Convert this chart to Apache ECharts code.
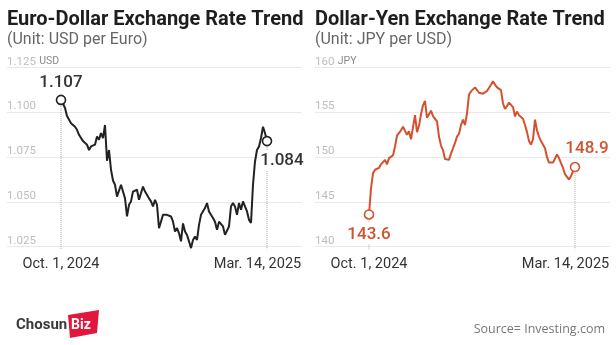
<!DOCTYPE html>
<html>
<head>
<meta charset="utf-8">
<script src="https://cdn.jsdelivr.net/npm/echarts@6/dist/echarts.min.js"></script>
<style>
html,body{margin:0;padding:0;background:#fff;}
#chart{width:616px;height:345px;}
</style>
</head>
<body>
<div id="chart"></div>
<script>
// ---- data ----
const dateLabels = ['Oct. 1, 2024', 'Mar. 14, 2025'];
const eurUsd = [
1.107,1.105,1.1025,1.098,1.097,1.094,1.0935,1.092,1.0903,1.0875,
1.0866,1.084,1.083,1.082,1.079,1.081,1.080,1.082,1.0866,1.0847,
1.0885,1.0857,1.093,1.073,1.079,1.068,1.062,1.0596,1.053,1.054,
1.0596,1.0596,1.052,1.0419,1.0484,1.0503,1.0558,1.0549,1.0568,1.0512,
1.0512,1.0586,1.0558,1.054,1.052,1.0503,1.0475,1.0512,1.0484,1.0354,
1.039,1.0428,1.0419,1.0428,1.0428,1.0419,1.039,1.0335,1.0354,1.0326,
1.028,1.038,1.0335,1.0316,1.028,1.0242,1.0288,1.0307,1.0288,1.0372,
1.0428,1.0419,1.0466,1.0494,1.0447,1.0428,1.041,1.039,1.0344,1.039,
1.040,1.0363,1.0316,1.0307,1.0363,1.0475,1.0494,1.0475,1.0428,1.0494,
1.0456,1.0503,1.0512,1.0447,1.040,1.0382,1.0596,1.0726,1.079,1.081,
1.0857,1.092,1.0885,1.084
];
const usdJpy = [
143.6,146.5,148.2,148.6,148.4,148.8,149.2,149.0,149.7,149.2,
149.9,149.9,150.2,151.2,152.4,152.2,153.0,153.4,153.3,152.5,
152.9,152.0,152.2,154.7,152.8,153.5,154.8,155.8,156.3,154.4,
154.6,155.2,154.6,154.7,154.0,152.3,151.3,150.8,149.8,149.6,
149.7,150.4,150.6,151.6,152.3,152.6,153.6,154.2,153.6,154.9,
157.0,157.35,157.2,157.8,157.8,157.2,157.0,157.1,157.1,157.4,
157.5,158.1,158.5,158.1,157.8,157.9,157.5,156.0,155.4,155.7,
156.1,156.2,155.6,154.55,155.1,154.7,154.9,154.3,153.6,152.8,
151.8,151.4,152.0,154.2,153.0,152.3,151.8,151.9,151.0,150.0,
149.4,149.2,149.4,149.5,150.3,149.9,149.35,148.8,148.1,147.9,
147.5,147.9,148.4,148.9
];
const eurTicks = ['1.025','1.050','1.075','1.100','1.125'];
const jpyTicks = ['140','145','150','155','160'];
const units = ['USD', 'JPY'];
const titles = ['Euro-Dollar Exchange Rate Trend', 'Dollar-Yen Exchange Rate Trend'];
const subtitles = ['(Unit: USD per Euro)', '(Unit: JPY per USD)'];
const source = 'Source= Investing.com';

// ---- styling ----
const FONT = 'Roboto';
const BLACK = '#222222';
const ORANGE = '#d4512d';

function yAxisFor(ticks, unit, gridIndex) {
  const nums = ticks.map(Number);
  const min = nums[0], max = nums[nums.length - 1];
  const interval = Number(((max - min) / (nums.length - 1)).toFixed(4));
  return {
    type: 'value', gridIndex: gridIndex, min: min, max: max, interval: interval,
    axisLine: {show: false}, axisTick: {show: false},
    splitLine: {lineStyle: {color: '#e9e9e9', width: 1}},
    axisLabel: {
      inside: true, margin: 0, verticalAlign: 'bottom', align: 'left',
      formatter: function (v) {
        let idx = nums.findIndex(n => Math.abs(n - v) < 1e-6);
        let t = idx >= 0 ? ticks[idx] : String(v);
        return idx === nums.length - 1 ? '{v|' + t + '} {u|' + unit + '}' : '{v|' + t + '}';
      },
      rich: {
        v: {fontFamily: FONT, fontSize: 11.5, color: '#bdbdbd'},
        u: {fontFamily: FONT, fontSize: 10.5, color: '#8a8a8a'}
      }
    }
  };
}

function xAxisFor(gridIndex, n) {
  return {
    type: 'value', gridIndex: gridIndex, min: -27, max: (n - 1) + 17.5,
    axisLine: {show: false}, axisTick: {show: false}, splitLine: {show: false},
    axisLabel: {
      customValues: [0, n - 1], margin: 10,
      formatter: function (v) {
        return v === 0 ? '{a|' + dateLabels[0] + '}' : '{b|' + dateLabels[1] + '}';
      },
      rich: {
        a: {fontFamily: FONT, fontSize: 14.5, color: '#333'},
        b: {fontFamily: FONT, fontSize: 14.5, color: '#333', padding: [0, 19, 0, 0]}
      }
    }
  };
}

function guideSeries(values, idx, bottom, gridIndex) {
  return {
    type: 'line', xAxisIndex: gridIndex, yAxisIndex: gridIndex, z: 1,
    data: [[idx, values[idx]], [idx, bottom]],
    symbol: 'none', clip: false, silent: true,
    lineStyle: {type: 'dotted', color: '#a9a9a9', width: 1}
  };
}

function seriesFor(values, color, gridIndex, digits, startLabelPos, endLabelPos) {
  const n = values.length;
  const labelBase = {show: true, fontFamily: FONT, fontSize: 17, fontWeight: 500, color: color === BLACK ? '#333' : color};
  return {
    type: 'line', xAxisIndex: gridIndex, yAxisIndex: gridIndex, z: 3,
    data: values.map((v, i) => [i, v]),
    symbol: 'none', clip: false, silent: true,
    lineStyle: {color: color, width: 2},
    markPoint: {
      silent: true, z: 10, animation: false,
      symbol: 'circle', symbolSize: 9,
      itemStyle: {color: '#fff', borderColor: color, borderWidth: 1.6},
      data: [
        {coord: [0, values[0]], label: Object.assign({}, labelBase, startLabelPos, {formatter: values[0].toFixed(digits)})},
        {coord: [n - 1, values[n - 1]], label: Object.assign({}, labelBase, endLabelPos, {formatter: values[n - 1].toFixed(digits)})}
      ]
    }
  };
}

const eurBottom = Number(eurTicks[0]) - 0.0014;
const jpyBottom = Number(jpyTicks[0]) - 0.28;

const chart = echarts.init(document.getElementById('chart'), null, {renderer: 'canvas'});
chart.setOption({
  animation: false,
  backgroundColor: '#fff',
  title: [
    {left: 7, top: 10, padding: 0, text: titles[0], subtext: subtitles[0], itemGap: 2,
     textStyle: {fontFamily: FONT, fontSize: 20, fontWeight: 'bold', color: '#1e1e1e'},
     subtextStyle: {fontFamily: FONT, fontSize: 16, color: '#666'}},
    {left: 315, top: 10, padding: 0, text: titles[1], subtext: subtitles[1], itemGap: 2,
     textStyle: {fontFamily: FONT, fontSize: 20, fontWeight: 'bold', color: '#1e1e1e'},
     subtextStyle: {fontFamily: FONT, fontSize: 16, color: '#666'}}
  ],
  grid: [
    {left: 7, width: 295, top: 67.7, bottom: 98.3},
    {left: 315, width: 295, top: 67.7, bottom: 98.3}
  ],
  xAxis: [xAxisFor(0, eurUsd.length), xAxisFor(1, usdJpy.length)],
  yAxis: [yAxisFor(eurTicks, units[0], 0), yAxisFor(jpyTicks, units[1], 1)],
  series: [
    guideSeries(eurUsd, 0, eurBottom, 0),
    guideSeries(eurUsd, eurUsd.length - 1, eurBottom, 0),
    guideSeries(usdJpy, 0, jpyBottom, 1),
    guideSeries(usdJpy, usdJpy.length - 1, jpyBottom, 1),
    seriesFor(eurUsd, BLACK, 0, 3,
      {position: 'top', distance: 3},
      {position: 'bottom', distance: 4, offset: [15, 0], backgroundColor: '#fff', padding: [2, 1, 1, 1]}),
    seriesFor(usdJpy, ORANGE, 1, 1,
      {position: 'bottom', distance: 3, backgroundColor: '#fff', padding: [3, 1, 1, 1]},
      {position: 'top', distance: 4, offset: [12, 0]})
  ],
  graphic: [
    {type: 'text', left: 16, top: 318, style: {text: 'Chosun', fontFamily: FONT, fontSize: 15, fontWeight: 'bold', fill: '#3a3a3a'}},
    {type: 'polygon', shape: {points: [[68, 315], [99, 310], [97, 333], [70, 338]]}, style: {fill: '#e3173e'}},
    {type: 'text', left: 71, top: 318, style: {text: 'Biz', fontFamily: FONT, fontSize: 14, fontWeight: 'bold', fill: '#fff'}},
    {type: 'text', right: 11, top: 323, style: {text: source, fontFamily: 'Open Sans', fontSize: 12.5, fill: '#777'}}
  ]
});
</script>
</body>
</html>
